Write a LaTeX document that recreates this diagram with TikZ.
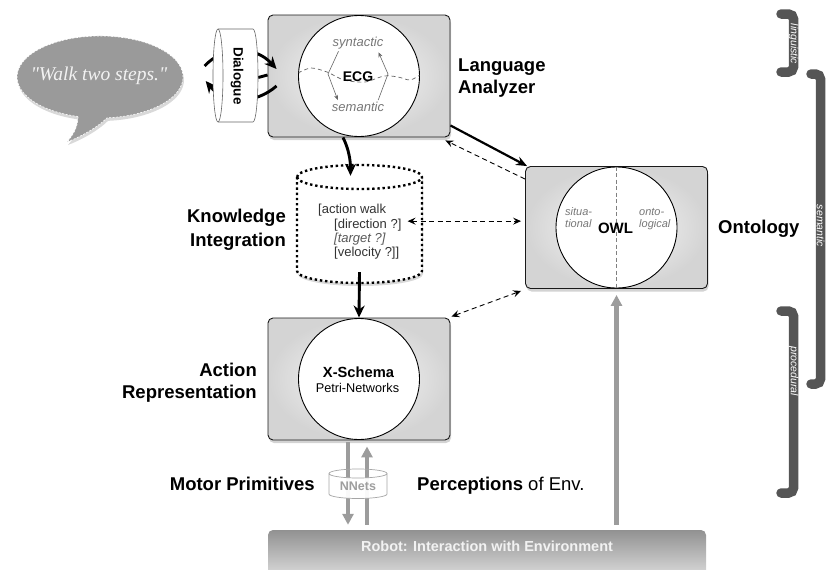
\documentclass[tikz,border=0pt]{standalone}
\usepackage{fontspec}
\usepackage{graphicx}
\setmainfont{Liberation Sans}
\newfontfamily\serifface{Liberation Serif}
\usetikzlibrary{arrows.meta,shapes.geometric,shadows,calc}
\definecolor{bubblegray}{HTML}{9A9A9A}
\definecolor{arrgray}{HTML}{9C9C9C}
\definecolor{brkgray}{HTML}{555555}
\definecolor{txtgray}{HTML}{777777}
\begin{document}
\begin{tikzpicture}[x=1pt,y=-1pt,
  box/.style={draw=black!90, line width=0.9pt, rounded corners=5pt,
    inner color=black!2, outer color=black!17,
    drop shadow={opacity=0.35, shadow xshift=1pt, shadow yshift=-3pt},
    minimum width=182pt, minimum height=122pt, inner sep=0pt},
  disc/.style={circle, draw=black, line width=0.9pt, fill=white, minimum size=121pt, inner sep=0pt},
  lab/.style={font=\bfseries\fontsize{18.5}{22}\selectfont, inner sep=0pt},
  gtxt/.style={font=\itshape\fontsize{13}{13}\selectfont, text=txtgray, inner sep=1pt},
  otxt/.style={font=\itshape\fontsize{11}{12}\selectfont, text=txtgray, inner sep=0pt, align=left},
  ktxt/.style={font=\fontsize{13}{13}\selectfont, text=black!80, inner sep=0pt},
  bigarr/.style={line width=2.9pt, -{Stealth[length=12pt,width=11pt]}},
  dasharr/.style={line width=0.9pt, dash pattern=on 5pt off 3.5pt, -{Stealth[length=8pt,width=7pt,inset=3pt]}},
  grayarr/.style={line width=4.2pt, draw=arrgray, -{Triangle[length=11pt,width=11pt]}},
  thinarr/.style={line width=0.6pt, draw=black!60, -{Stealth[length=5pt,width=4pt]}},
  brk/.style={line width=9.5pt, draw=brkgray, rounded corners=5pt, line cap=round},
  brktxt/.style={font=\itshape\fontsize{10.5}{10.5}\selectfont, text=white, rotate=-90, inner sep=0pt}
]
\useasboundingbox (0,0) rectangle (827,570);

% ---------- speech bubble ----------
\path[fill=bubblegray, draw=white, line width=0.6pt, dash pattern=on 2pt off 1.5pt,
  drop shadow={opacity=0.3, shadow xshift=1pt, shadow yshift=-3pt}]
  (78,116.5) arc[start angle=105.4, end angle=445.2, x radius=83, y radius=41]
  .. controls (100,125) and (85,135) .. (67,142)
  .. controls (75,133) and (78,125) .. cycle;
\node[ellipse, minimum width=166pt, minimum height=82pt, inner sep=0pt,
  font=\serifface\itshape\fontsize{19.5}{20}\selectfont, text=black!5] (bubble) at (99,76) {"Walk two steps."};

% ---------- main boxes ----------
\node[box] (la) at (359,76) {};
\node[disc] (ecg) at (la.center) {};
\node[box] (ont) at (616.5,227.5) {};
\node[disc] (owl) at (ont.center) {};
\node[box] (ar) at (359,379) {};
\node[disc] (xs) at (ar.center) {};

% ---------- dialogue arrows (behind the cylinder) ----------
\node[minimum width=45pt, minimum height=93pt, inner sep=0pt] (dlg) at (235.5,75.5) {};
\draw[bigarr] ([xshift=9pt,yshift=10pt]bubble.east) .. controls +(18,-20) and +(-22,-24) .. ([xshift=9pt,yshift=7pt]la.west);
\draw[bigarr] ([xshift=9pt,yshift=-10pt]la.west) .. controls +(-22,19) and +(19,23) .. ([xshift=10pt,yshift=-5pt]bubble.east);
\draw[line width=2.9pt] ([yshift=-2pt]dlg.east) -- ([yshift=1pt]la.west);

% ---------- dialogue cylinder ----------
\path[draw=black!60, line width=0.6pt, fill=white]
  (218,29) -- (253,29) arc[start angle=-90, end angle=90, x radius=5, y radius=46.5]
  -- (218,122) arc[start angle=90, end angle=270, x radius=5, y radius=46.5] -- cycle;
\draw[black!60, line width=0.6pt] (218,29) arc[start angle=-90, end angle=90, x radius=5, y radius=46.5];
\node[font=\bfseries\fontsize{13.5}{14}\selectfont, inner sep=0pt] (dlgt) at (237,76) {\rotatebox{-90}{Dialogue}};

% ---------- ECG content ----------
\begin{scope}
  \clip (ecg.center) circle[radius=60.5];
  \draw[black!60, line width=0.7pt, dash pattern=on 4pt off 3pt] plot[smooth] coordinates
    {(298,73) (311,68) (327,72) (344,80) (365,82) (384,76) (398,77) (410,80) (420,75)};
\end{scope}
\node[gtxt] (syn) at (358,43) {syntactic};
\node[gtxt] (sem) at (358,107) {semantic};
\node[font=\bfseries\fontsize{14}{14}\selectfont, inner sep=0pt] (ecgt) at (358,77) {ECG};
\draw[thinarr] ([xshift=7pt,yshift=-1pt]syn.south west) -- ($(ecg.center)+(-31,-2)$) -- ([xshift=7pt,yshift=1pt]sem.north west);
\draw[thinarr] ([xshift=-7pt,yshift=1pt]sem.north east) -- ($(ecg.center)+(29,-2)$) -- ([xshift=-6pt,yshift=-2pt]syn.south east);

% ---------- OWL content ----------
\draw[black!50, line width=0.8pt, dash pattern=on 4pt off 2.5pt] (owl.north) -- (owl.south);
\node[otxt, anchor=base west] (sit) at (565,227) {situa-\\tional};
\node[otxt, anchor=base west] (onto) at (639,227) {onto-\\logical};
\node[font=\bfseries\fontsize{15}{15}\selectfont, inner sep=0pt] (owlt) at (615.5,228) {OWL};

% ---------- X-Schema content ----------
\node[font=\bfseries\fontsize{14.7}{15}\selectfont, inner sep=0pt] (xst) at (358.5,372) {X-Schema};
\node[font=\fontsize{12.7}{13}\selectfont, inner sep=0pt] (petri) at (357.5,388) {Petri-Networks};

% ---------- knowledge integration cylinder ----------
\node[minimum width=125pt, minimum height=118pt, inner sep=0pt] (ki) at (359.5,224) {};
\path[fill=white, draw=black, line width=2.4pt, dash pattern=on 2.4pt off 2.8pt,
  drop shadow={opacity=0.3, shadow xshift=1pt, shadow yshift=-3pt}]
  (297,177) -- (297,271) arc[start angle=180, end angle=0, x radius=62.5, y radius=12]
  -- (422,177) arc[start angle=0, end angle=-180, x radius=62.5, y radius=12] -- cycle;
\draw[black, line width=2.4pt, dash pattern=on 2.4pt off 2.8pt]
  (297,177) arc[start angle=180, end angle=0, x radius=62.5, y radius=12];
\node[ktxt, anchor=base west] (k1) at (318,213) {[action walk};
\node[ktxt, anchor=base west] (dir) at (334,228) {[direction ?]};
\node[ktxt, anchor=base west, font=\itshape\fontsize{13}{13}\selectfont, text=black!65] (k3) at (334,242) {[target ?]};
\node[ktxt, anchor=base west] (k4) at (334,256.5) {[velocity ?]]};

% ---------- connectors ----------
\draw[bigarr] ([xshift=-16pt]la.south) .. controls +(6,12) and +(0,-15) .. ([xshift=-9pt,yshift=-11pt]ki.north);
\draw[bigarr] ([yshift=11pt]ki.south) -- (ar.north);
\draw[line width=2.2pt, -{Stealth[length=11pt,width=9pt]}] ([yshift=12pt]la.south east) -- ([xshift=2pt]ont.north west);
\draw[dasharr] ([yshift=-13pt]ont.north west) -- ([xshift=-5pt,yshift=-3pt]la.south east);
\draw[dasharr, {Stealth[length=8pt,width=7pt,inset=3pt]}-{Stealth[length=8pt,width=7pt,inset=3pt]}]
  ([xshift=6pt,yshift=3.5pt]dir.east) -- ([xshift=-4pt,yshift=3.5pt]ont.west |- dir.east);
\draw[dasharr, {Stealth[length=8pt,width=7pt,inset=3pt]}-{Stealth[length=8pt,width=7pt,inset=3pt]}]
  ([xshift=1pt,yshift=1pt]ar.north east) -- ([xshift=-4pt,yshift=-2pt]ont.south west);

% ---------- robot bar ----------
\node[minimum width=438pt, minimum height=50pt, rounded corners=5pt, inner sep=0pt,
  top color=black!43, bottom color=black!12, text depth=18pt,
  font=\bfseries\fontsize{14.5}{15}\selectfont, text=white!95!black] (robot) at (487,555) {Robot: Interaction with Environment};

% gray arrows
\draw[grayarr] ([yshift=5pt]ont.south |- robot.north) -- ([yshift=-6pt]ont.south);
\draw[grayarr] ([xshift=-11pt,yshift=-2pt]ar.south) -- ([xshift=-11pt,yshift=5pt]ar.south |- robot.north);
\draw[grayarr] ([xshift=8pt,yshift=5pt]ar.south |- robot.north) -- ([xshift=8pt,yshift=-6pt]ar.south);

% NNets cylinder
\path[fill=white, fill opacity=0.95] (329,473.5) arc[start angle=180, end angle=0, x radius=29, y radius=4.5]
  -- (387,494) arc[start angle=0, end angle=180, x radius=29, y radius=4.5] -- cycle;
\draw[black!35, line width=0.7pt] (358,473.5) ellipse[x radius=29, y radius=4.5];
\draw[black!35, line width=0.7pt] (329,473.5) -- (329,494) arc[start angle=180, end angle=0, x radius=29, y radius=4.5] -- (387,473.5);
\node[minimum width=58pt, minimum height=30pt, inner sep=0pt, font=\bfseries\fontsize{12.5}{13}\selectfont, text=black!38] (nn) at (358,486) {NNets};

% ---------- labels ----------
\node[lab, anchor=north west, align=left] (lalab) at (458,59) {Language\\Analyzer};
\node[lab, anchor=north east, align=right, font=\bfseries\fontsize{18.5}{24}\selectfont] (kilab) at (286,209) {Knowledge\\Integration};
\node[lab, anchor=north east, align=right] (arlab) at (257,363) {Action\\Representation};
\node[lab, anchor=base west] (ontlab) at (718,233) {Ontology};
\node[lab, anchor=base east] (motor) at (315,490) {Motor Primitives};
\node[lab, anchor=base west] (perc) at (417,490) {Perceptions {\mdseries of Env.}};

% ---------- right brackets ----------
\draw[brk] (781,14) -- (793.5,14) -- (793.5,72) -- (781,72);
\draw[brk] (811,74) -- (820.5,74) -- (820.5,384) -- (811,384);
\draw[brk] (781,311) -- (793.5,311) -- (793.5,493) -- (781,493);
\node[brktxt] (lingt) at (793.5,44) {linguistic};
\node[brktxt] (semt) at (820.5,226) {semantic};
\node[brktxt] (proct) at (793.5,371) {procedural};
\end{tikzpicture}
\end{document}
